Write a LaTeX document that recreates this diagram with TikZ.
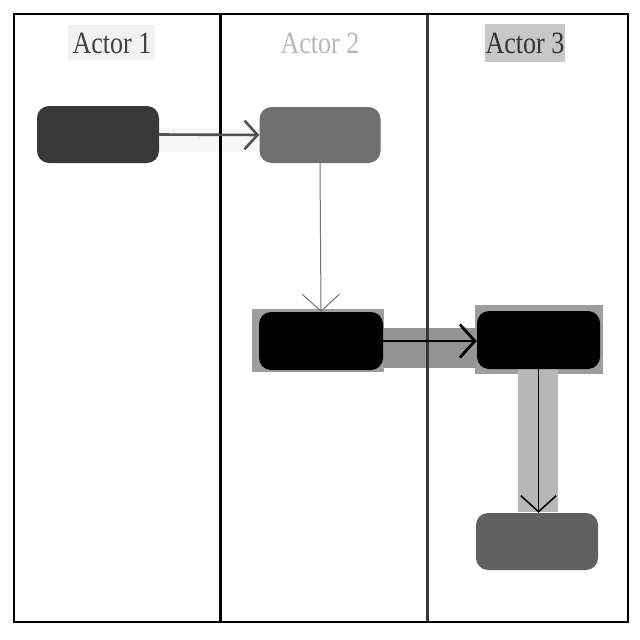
\documentclass[tikz,border=0pt]{standalone}
\usepackage{fontspec}
\setmainfont{Liberation Serif}
\usetikzlibrary{arrows.meta}
\begin{document}
\begin{tikzpicture}[x=1pt,y=-1pt,
  title/.style={font=\fontsize{31}{31}\selectfont, xscale=0.84, inner sep=0pt, anchor=center},
  act/.style={rounded corners=12pt, draw=none},
  hl/.style={fill=black!38, draw=none},
  barb/.style={-{Straight Barb[length=#1, width=2.2*#1]}},
]
\useasboundingbox (0,0) rectangle (640,640);
\fill[white] (0,0) rectangle (640,640);
% title backgrounds
\fill[black!5] (68,25) rectangle (155,60);
\fill[black!22] (485,24) rectangle (565,62);
% highlight bands
\fill[black!3] (159,128) rectangle (260,152);
\fill[hl] (252,309) rectangle (384,372);
\fill[hl] (475,305) rectangle (603,374);
\fill[black!42] (383,328) rectangle (477,368);
\fill[black!28] (518,369) rectangle (558,512);
% nodes
\node[act, fill=black!78, minimum width=122pt, minimum height=57pt] (n1) at (98,134.5) {};
\node[act, fill=black!56, minimum width=121pt, minimum height=56pt] (n2) at (320,135) {};
\node[act, fill=black, minimum width=124pt, minimum height=58pt] (n3) at (321,341) {};
\node[act, fill=black, minimum width=123pt, minimum height=58pt] (n4) at (538.5,340) {};
\node[act, fill=black!62, minimum width=122pt, minimum height=57pt] (n5) at (537,541.5) {};
% titles
\node[title, text=black!75] (t1) at (112,43) {Actor 1};
\node[title, text=black!28] (t2) at (320,43) {Actor 2};
\node[title, text=black!80] (t3) at (525,43) {Actor 3};
% swimlane frame
\draw[line width=2.6pt] (220.7,14) -- (220.7,622);
\draw[line width=3pt, black!78] (427,14) -- (427,622);
\draw[line width=2.8pt] (14,14) rectangle (628,622);
% connectors
\draw[line width=2.6pt, black!68, barb=13pt] (n1.east) -- (n2.west);
\draw[line width=1pt, black!55, barb=17pt] (n2.south) -- (n3.north);
\draw[line width=2.8pt, black, barb=15pt] (n3.east) -- (n3.east -| n4.west);
\draw[line width=1.6pt, black, barb=16pt] (n4.south) -- (n5.north -| n4.south);
\end{tikzpicture}
\end{document}
